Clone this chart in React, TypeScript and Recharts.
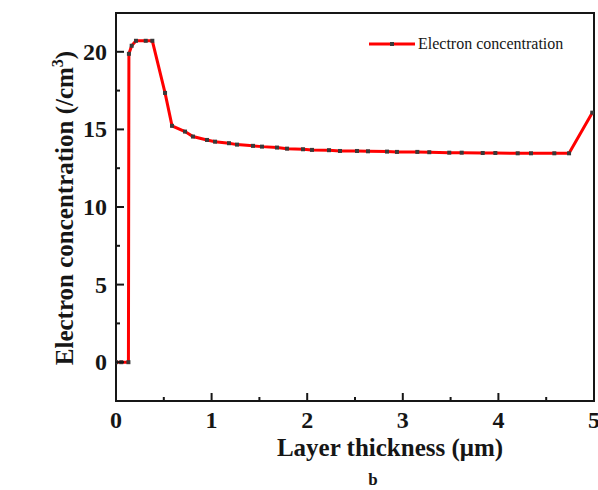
import React from 'react';
import { LineChart, Line, XAxis, YAxis, ReferenceArea } from 'recharts';

// layer thickness (µm) and electron concentration
const thickness = [
  0, 0.055, 0.13, 0.135, 0.164, 0.209, 0.311, 0.38, 0.513, 0.586, 0.722, 0.805,
  0.952, 1.036, 1.182, 1.266, 1.433, 1.527, 1.684, 1.789, 1.956, 2.05, 2.228,
  2.343, 2.521, 2.636, 2.835, 2.939, 3.152, 3.277, 3.486, 3.616, 3.836, 3.968,
  4.202, 4.341, 4.585, 4.739, 4.982,
];
const concentration = [
  0, 0, 0, 19.87, 20.39, 20.71, 20.71, 20.71, 17.35, 15.23, 14.86, 14.54,
  14.32, 14.21, 14.11, 14.02, 13.94, 13.89, 13.83, 13.76, 13.72, 13.68, 13.66,
  13.61, 13.61, 13.59, 13.57, 13.55, 13.55, 13.53, 13.5, 13.5, 13.48, 13.48,
  13.46, 13.46, 13.46, 13.46, 16.08,
];

const xTicks = [0, 0.5, 1, 1.5, 2, 2.5, 3, 3.5, 4, 4.5, 5];
const yTicks = [0, 2.5, 5, 7.5, 10, 12.5, 15, 17.5, 20];

const data = thickness.map((t, i) => ({ t, n: concentration[i] }));

const FONT = '"Liberation Serif", "Times New Roman", serif';
const INK = '#161616';

const XTick = ({ x, y, payload }: any) => {
  const major = Number.isInteger(payload.value);
  return (
    <g>
      <line x1={x} y1={y} x2={x} y2={y - (major ? 8 : 4)} stroke={INK} strokeWidth={2} />
      {major && (
        <text x={x} y={y + 27} textAnchor="middle" fontFamily={FONT} fontWeight="bold" fontSize={24} fill={INK}>
          {payload.value}
        </text>
      )}
    </g>
  );
};

const YTick = ({ x, y, payload }: any) => {
  const major = payload.value % 5 === 0;
  return (
    <g>
      <line x1={x} y1={y} x2={x + (major ? 8 : 4)} y2={y} stroke={INK} strokeWidth={2} />
      {major && (
        <text x={x - 9} y={y + 8} textAnchor="end" fontFamily={FONT} fontWeight="bold" fontSize={24} fill={INK}>
          {payload.value}
        </text>
      )}
    </g>
  );
};

const SquareDot = ({ cx, cy }: any) => (
  <rect x={cx - 2} y={cy - 2} width={4} height={4} fill="#3a3a3a" />
);

const XLabel = () => (
  <g>
    <text x={390} y={456} textAnchor="middle" fontFamily={FONT} fontWeight="bold" fontSize={25} fill={INK}>
      Layer thickness (μm)
    </text>
    <text x={373} y={485} textAnchor="middle" fontFamily={FONT} fontWeight="bold" fontSize={17} fill={INK}>
      b
    </text>
  </g>
);

const YLabel = () => (
  <text
    x={73}
    y={208}
    transform="rotate(-90 73 208)"
    textAnchor="middle"
    fontFamily={FONT}
    fontWeight="bold"
    fontSize={25}
    fill={INK}
  >
    Electron concentration (/cm
    <tspan dy={-10} fontSize={16}>3</tspan>
    <tspan dy={10}>)</tspan>
  </text>
);

export default function App() {
  return (
    <div style={{ width: 598, height: 490, background: '#fff', position: 'relative' }}>
      <style>{'body{margin:0}'}</style>
      <LineChart width={598} height={490} data={data} margin={{ top: 13, right: 4, left: 56, bottom: 0 }}>
        <XAxis
          dataKey="t"
          type="number"
          domain={[0, 5]}
          ticks={xTicks}
          interval={0}
          height={89}
          axisLine={false}
          tickLine={false}
          tickSize={0}
          tickMargin={0}
          tick={<XTick />}
          label={<XLabel />}
          allowDataOverflow
        />
        <YAxis
          type="number"
          domain={[-2.5, 22.5]}
          ticks={yTicks}
          interval={0}
          width={60}
          axisLine={false}
          tickLine={false}
          tickSize={0}
          tickMargin={0}
          tick={<YTick />}
          label={<YLabel />}
          allowDataOverflow
        />
        <ReferenceArea x1={0} x2={5} y1={-2.5} y2={22.5} fill="none" fillOpacity={0} stroke={INK} strokeWidth={2} />
        <Line
          type="linear"
          dataKey="n"
          name="Electron concentration"
          stroke="#ff0000"
          strokeWidth={3}
          dot={<SquareDot />}
          activeDot={false}
          isAnimationActive={false}
        />
      </LineChart>
      <div
        style={{
          position: 'absolute',
          top: 35,
          left: 368,
          display: 'flex',
          alignItems: 'center',
          fontFamily: FONT,
          fontSize: 16,
          color: INK,
          whiteSpace: 'nowrap',
        }}
      >
        <svg width={48} height={10} style={{ marginRight: 2 }}>
          <line x1={1} y1={5} x2={47} y2={5} stroke="#ff0000" strokeWidth={3} />
          <rect x={22} y={3} width={4} height={4} fill="#3a3a3a" />
        </svg>
        <span>Electron concentration</span>
      </div>
    </div>
  );
}
